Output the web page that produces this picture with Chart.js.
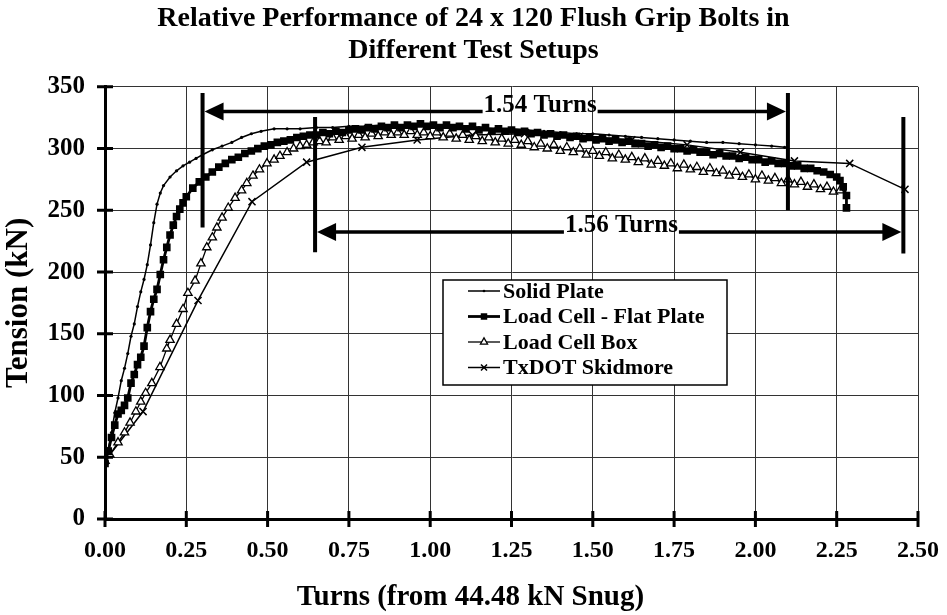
<!DOCTYPE html>
<html lang="en">
<head>
<meta charset="UTF-8" />
<title>Flush Grip Bolts</title>
<style>
  body { margin: 0; background: #fff; }
  #wrap { width: 947px; height: 615px; }
</style>
</head>
<body>
<div id="wrap"><canvas id="myChart" width="947" height="615"></canvas></div>

<script src="https://cdn.jsdelivr.net/npm/chart.js"></script>
<script>
  const seriesNames = ["Solid Plate", "Load Cell - Flat Plate", "Load Cell Box", "TxDOT Skidmore"];

  // [turns, tension kN]
  const solidPlate = [
    [0.00, 47], [0.01, 57], [0.02, 70], [0.03, 86], [0.04, 98], [0.05, 112], [0.06, 122], [0.07, 134],
    [0.08, 148], [0.09, 158], [0.10, 172], [0.11, 184], [0.12, 194], [0.13, 206], [0.14, 222], [0.15, 240],
    [0.16, 255], [0.17, 264], [0.18, 270], [0.20, 277], [0.22, 282], [0.24, 286], [0.26, 289], [0.28, 292],
    [0.30, 295], [0.33, 299], [0.36, 302], [0.39, 305], [0.42, 309], [0.45, 312], [0.48, 314], [0.52, 316],
    [0.56, 316], [0.60, 316], [0.65, 317], [0.70, 317], [0.75, 318], [0.80, 318], [0.85, 319], [0.90, 319],
    [0.95, 319], [1.00, 319], [1.05, 318], [1.10, 318], [1.15, 317], [1.20, 316], [1.25, 316], [1.30, 315],
    [1.35, 314], [1.40, 313], [1.45, 312], [1.50, 312], [1.55, 311], [1.60, 310], [1.65, 309], [1.70, 308],
    [1.75, 307], [1.80, 306], [1.85, 305], [1.90, 305], [1.95, 304], [2.00, 303], [2.05, 302], [2.09, 301]
  ];
  const flatPlate = [
    [0.00, 45], [0.01, 55], [0.02, 66], [0.03, 76], [0.04, 85], [0.05, 88], [0.06, 92], [0.07, 98],
    [0.08, 110], [0.09, 117], [0.10, 125], [0.11, 131], [0.12, 140], [0.13, 155], [0.14, 168], [0.15, 178],
    [0.16, 186], [0.17, 198], [0.18, 210], [0.19, 220], [0.20, 230], [0.21, 238], [0.22, 245], [0.23, 251],
    [0.24, 256], [0.25, 261], [0.27, 268], [0.29, 273], [0.31, 277], [0.33, 281], [0.35, 285], [0.37, 288],
    [0.39, 291], [0.41, 293], [0.43, 296], [0.45, 298], [0.47, 300], [0.49, 302], [0.51, 303], [0.53, 305],
    [0.55, 306], [0.57, 307], [0.59, 309], [0.61, 310], [0.63, 311], [0.65, 311], [0.67, 313], [0.69, 312],
    [0.71, 314], [0.73, 313], [0.75, 315], [0.77, 316], [0.79, 315], [0.81, 317], [0.83, 316], [0.85, 318],
    [0.87, 317], [0.89, 319], [0.91, 317], [0.93, 319], [0.95, 318], [0.97, 320], [0.99, 318], [1.01, 319],
    [1.03, 317], [1.05, 319], [1.07, 317], [1.09, 318], [1.11, 316], [1.13, 318], [1.15, 315], [1.17, 317],
    [1.19, 314], [1.21, 316], [1.23, 314], [1.25, 315], [1.27, 313], [1.29, 314], [1.31, 312], [1.33, 313],
    [1.35, 311], [1.37, 312], [1.39, 310], [1.41, 311], [1.43, 309], [1.45, 310], [1.47, 308], [1.49, 309],
    [1.51, 307], [1.53, 308], [1.55, 306], [1.57, 307], [1.59, 305], [1.61, 306], [1.63, 304], [1.65, 304],
    [1.67, 302], [1.69, 303], [1.71, 301], [1.73, 302], [1.75, 300], [1.77, 300], [1.79, 298], [1.81, 299],
    [1.83, 297], [1.85, 297], [1.87, 295], [1.89, 296], [1.91, 294], [1.93, 294], [1.95, 292], [1.97, 293],
    [1.99, 291], [2.01, 291], [2.03, 289], [2.05, 290], [2.07, 288], [2.09, 288], [2.11, 286], [2.13, 286],
    [2.15, 284], [2.17, 284], [2.19, 282], [2.21, 281], [2.23, 279], [2.25, 277], [2.26, 274], [2.27, 269],
    [2.28, 262], [2.28, 252]
  ];
  const cellBox = [
    [0.00, 47], [0.015, 52], [0.04, 62], [0.06, 70], [0.077, 78], [0.095, 87], [0.11, 95], [0.125, 102],
    [0.144, 110], [0.169, 123], [0.19, 138], [0.20, 145], [0.22, 158], [0.24, 170], [0.255, 183], [0.277, 193],
    [0.295, 207], [0.313, 220], [0.33, 228], [0.344, 236], [0.36, 244], [0.379, 252], [0.40, 260], [0.42, 266],
    [0.436, 272], [0.455, 278], [0.475, 283], [0.498, 288], [0.52, 291], [0.538, 294], [0.56, 297], [0.58, 300],
    [0.60, 302], [0.62, 303], [0.64, 305], [0.66, 306], [0.68, 305], [0.70, 309], [0.72, 307], [0.74, 310],
    [0.76, 308], [0.78, 311], [0.80, 309], [0.82, 312], [0.84, 310], [0.86, 313], [0.88, 311], [0.90, 313],
    [0.92, 311], [0.94, 314], [0.96, 311], [0.98, 313], [1.00, 310], [1.02, 313], [1.04, 309], [1.06, 312],
    [1.08, 308], [1.10, 311], [1.12, 307], [1.14, 310], [1.16, 306], [1.18, 309], [1.20, 305], [1.22, 308],
    [1.24, 304], [1.26, 307], [1.28, 303], [1.30, 306], [1.32, 301], [1.34, 304], [1.36, 300], [1.38, 303],
    [1.40, 298], [1.42, 301], [1.44, 297], [1.46, 300], [1.48, 295], [1.50, 298], [1.52, 294], [1.54, 297],
    [1.56, 292], [1.58, 295], [1.60, 291], [1.62, 293], [1.64, 289], [1.66, 292], [1.68, 287], [1.70, 290],
    [1.72, 286], [1.74, 288], [1.76, 284], [1.78, 287], [1.80, 283], [1.82, 285], [1.84, 281], [1.86, 284],
    [1.88, 280], [1.90, 282], [1.92, 278], [1.94, 281], [1.96, 277], [1.98, 279], [2.00, 275], [2.02, 278],
    [2.04, 274], [2.06, 276], [2.08, 272], [2.10, 275], [2.12, 271], [2.14, 273], [2.16, 269], [2.18, 271],
    [2.20, 267], [2.22, 269], [2.24, 265], [2.26, 266]
  ];
  const skidmore = [
    [0.00, 47], [0.117, 87], [0.286, 177], [0.452, 257], [0.62, 289], [0.79, 301], [0.96, 307], [1.13, 311],
    [1.29, 312], [1.46, 310], [1.62, 307], [1.79, 303], [1.954, 297], [2.12, 290], [2.29, 288], [2.46, 267]
  ];

  const yTicks = [0, 50, 100, 150, 200, 250, 300, 350];
  const xTicks = [0, 0.25, 0.5, 0.75, 1, 1.25, 1.5, 1.75, 2, 2.25, 2.5];
  const xTitle = "Turns (from 44.48 kN Snug)";

  // dimension arrows: label, from/to turns, line height, bar extents (kN)
  const spanLabels = ["1.54 Turns", "1.56 Turns"];
  const spanFrom = [0.30, 0.646];
  const spanTo = [2.10, 2.455];
  const spanLineY = [330, 232.5];
  const spanLabelX = [1.338, 1.588];
  const barFromLow = [236, 216];
  const barToLow = [250, 215];
  const barHigh = [345, 325.5];

  const serif = '"Liberation Serif", "Times New Roman", serif';
  const pts = (arr) => arr.map(([x, y]) => ({ x, y }));

  const styles = [
    { pointStyle: "circle", pointRadius: 1.6, pointBackgroundColor: "#000", pointBorderWidth: 0, borderWidth: 1.5 },
    { pointStyle: "rect", pointRadius: 5.4, pointBackgroundColor: "#000", pointBorderWidth: 0, borderWidth: 2.8 },
    { pointStyle: "triangle", pointRadius: 4.8, pointBackgroundColor: "#fff", pointBorderWidth: 1.3, borderWidth: 1.3 },
    { pointStyle: "crossRot", pointRadius: 5, pointBackgroundColor: "#000", pointBorderWidth: 1.5, borderWidth: 1.5 }
  ];

  function arrowHead(ctx, xt, yt, dir) {
    ctx.beginPath();
    ctx.moveTo(xt, yt);
    ctx.lineTo(xt - dir * 19, yt - 9);
    ctx.lineTo(xt - dir * 19, yt + 9);
    ctx.closePath();
    ctx.fill();
  }

  const axisTicks = {
    id: "axisTicks",
    afterDatasetsDraw(chart) {
      const { ctx, scales: { x, y } } = chart;
      ctx.save();
      ctx.strokeStyle = "#000";
      ctx.lineWidth = 3;
      ctx.beginPath();
      const x0 = x.getPixelForValue(0);
      yTicks.forEach(v => {
        const py = y.getPixelForValue(v);
        ctx.moveTo(x0 - 8, py); ctx.lineTo(x0 + 8, py);
      });
      const y0 = y.getPixelForValue(0);
      xTicks.forEach(v => {
        const px = x.getPixelForValue(v);
        ctx.moveTo(px, y0 - 8); ctx.lineTo(px, y0 + 8);
      });
      ctx.stroke();
      // x axis title, centred on the page like the original
      ctx.fillStyle = "#000";
      ctx.font = "bold 29px " + serif;
      ctx.textAlign = "center";
      ctx.textBaseline = "middle";
      ctx.fillText(xTitle, chart.width / 2 - 3, 598);
      ctx.restore();
    }
  };

  const spans = {
    id: "spans",
    afterDatasetsDraw(chart) {
      const { ctx, scales: { x, y } } = chart;
      ctx.save();
      ctx.fillStyle = "#000";
      ctx.strokeStyle = "#000";
      ctx.font = "bold 25px " + serif;
      for (let i = 0; i < spanLabels.length; i++) {
        const xa = x.getPixelForValue(spanFrom[i]);
        const xb = x.getPixelForValue(spanTo[i]);
        const yl = y.getPixelForValue(spanLineY[i]);
        const xc = x.getPixelForValue(spanLabelX[i]);
        const tw = ctx.measureText(spanLabels[i]).width;
        ctx.lineWidth = 4;
        ctx.beginPath();
        ctx.moveTo(xa, y.getPixelForValue(barFromLow[i]));
        ctx.lineTo(xa, y.getPixelForValue(barHigh[i]));
        ctx.moveTo(xb, y.getPixelForValue(barToLow[i]));
        ctx.lineTo(xb, y.getPixelForValue(barHigh[i]));
        ctx.stroke();
        ctx.lineWidth = 3.5;
        ctx.beginPath();
        ctx.moveTo(xa + 10, yl); ctx.lineTo(xc - tw / 2 - 1, yl);
        ctx.moveTo(xc + tw / 2 + 1, yl); ctx.lineTo(xb - 10, yl);
        ctx.stroke();
        arrowHead(ctx, xa + 2, yl, -1);
        arrowHead(ctx, xb - 2, yl, 1);
        ctx.textAlign = "center";
        ctx.textBaseline = "alphabetic";
        ctx.fillText(spanLabels[i], xc, yl);
      }
      ctx.restore();
    }
  };

  const boxLegend = {
    id: "boxLegend",
    afterDraw(chart) {
      const { ctx } = chart;
      const left = 443, top = 280, w = 284, h = 105;
      ctx.save();
      ctx.fillStyle = "#fff";
      ctx.fillRect(left, top, w, h);
      ctx.strokeStyle = "#000";
      ctx.lineWidth = 1.5;
      ctx.strokeRect(left, top, w, h);
      ctx.font = "bold 22px " + serif;
      ctx.textBaseline = "middle";
      ctx.textAlign = "left";
      seriesNames.forEach((name, i) => {
        const st = styles[i];
        const cy = top + 11 + i * 25.5;
        ctx.strokeStyle = "#000";
        ctx.lineWidth = st.borderWidth;
        ctx.beginPath();
        ctx.moveTo(left + 25, cy); ctx.lineTo(left + 57, cy);
        ctx.stroke();
        ctx.fillStyle = st.pointBackgroundColor;
        ctx.lineWidth = st.pointBorderWidth;
        Chart.helpers.drawPoint(ctx, {
          pointStyle: st.pointStyle, radius: st.pointRadius * 0.85, rotation: 0, borderWidth: st.pointBorderWidth
        }, left + 41, cy);
        ctx.fillStyle = "#000";
        ctx.fillText(name, left + 60, cy + 1);
      });
      ctx.restore();
    }
  };

  const seriesData = [solidPlate, flatPlate, cellBox, skidmore];

  const ctx = document.getElementById("myChart");
  new Chart(ctx, {
    type: "line",
    data: {
      datasets: seriesNames.map((name, i) => ({
        label: name,
        data: pts(seriesData[i]),
        borderColor: "#000",
        pointBorderColor: "#000",
        tension: 0,
        ...styles[i]
      }))
    },
    options: {
      responsive: false,
      animation: false,
      events: [],
      layout: { padding: 0 },
      plugins: {
        legend: { display: false },
        tooltip: { enabled: false },
        title: {
          display: true,
          text: ["Relative Performance of 24 x 120 Flush Grip Bolts in", "Different Test Setups"],
          color: "#000",
          font: { family: serif, size: 28, weight: "bold", lineHeight: 1.14 },
          padding: { top: 3, bottom: 20 }
        }
      },
      scales: {
        x: {
          type: "linear",
          min: 0,
          max: 2.5,
          afterFit: s => { s.height = 96; s.paddingLeft = 0; s.paddingRight = 29; },
          afterBuildTicks: s => { s.ticks = xTicks.map(v => ({ value: v })); },
          ticks: {
            color: "#000",
            padding: 17,
            font: { family: serif, size: 24, weight: "bold" },
            callback: v => v.toFixed(2)
          },
          grid: { color: "#333", lineWidth: 1, drawTicks: false },
          border: { color: "#000", width: 3 },
          title: { display: false }
        },
        y: {
          min: 0,
          max: 350,
          afterFit: s => { s.width = 105; },
          afterBuildTicks: s => { s.ticks = yTicks.map(v => ({ value: v })); },
          ticks: {
            color: "#000",
            padding: 20,
            font: { family: serif, size: 25, weight: "bold" }
          },
          grid: { color: "#333", lineWidth: 1, drawTicks: false },
          border: { color: "#000", width: 3 },
          title: {
            display: true,
            text: "Tension (kN)",
            color: "#000",
            font: { family: serif, size: 31, weight: "bold" },
            padding: { top: 0, bottom: 0 }
          }
        }
      }
    },
    plugins: [axisTicks, spans, boxLegend]
  });
</script>
</body>
</html>
